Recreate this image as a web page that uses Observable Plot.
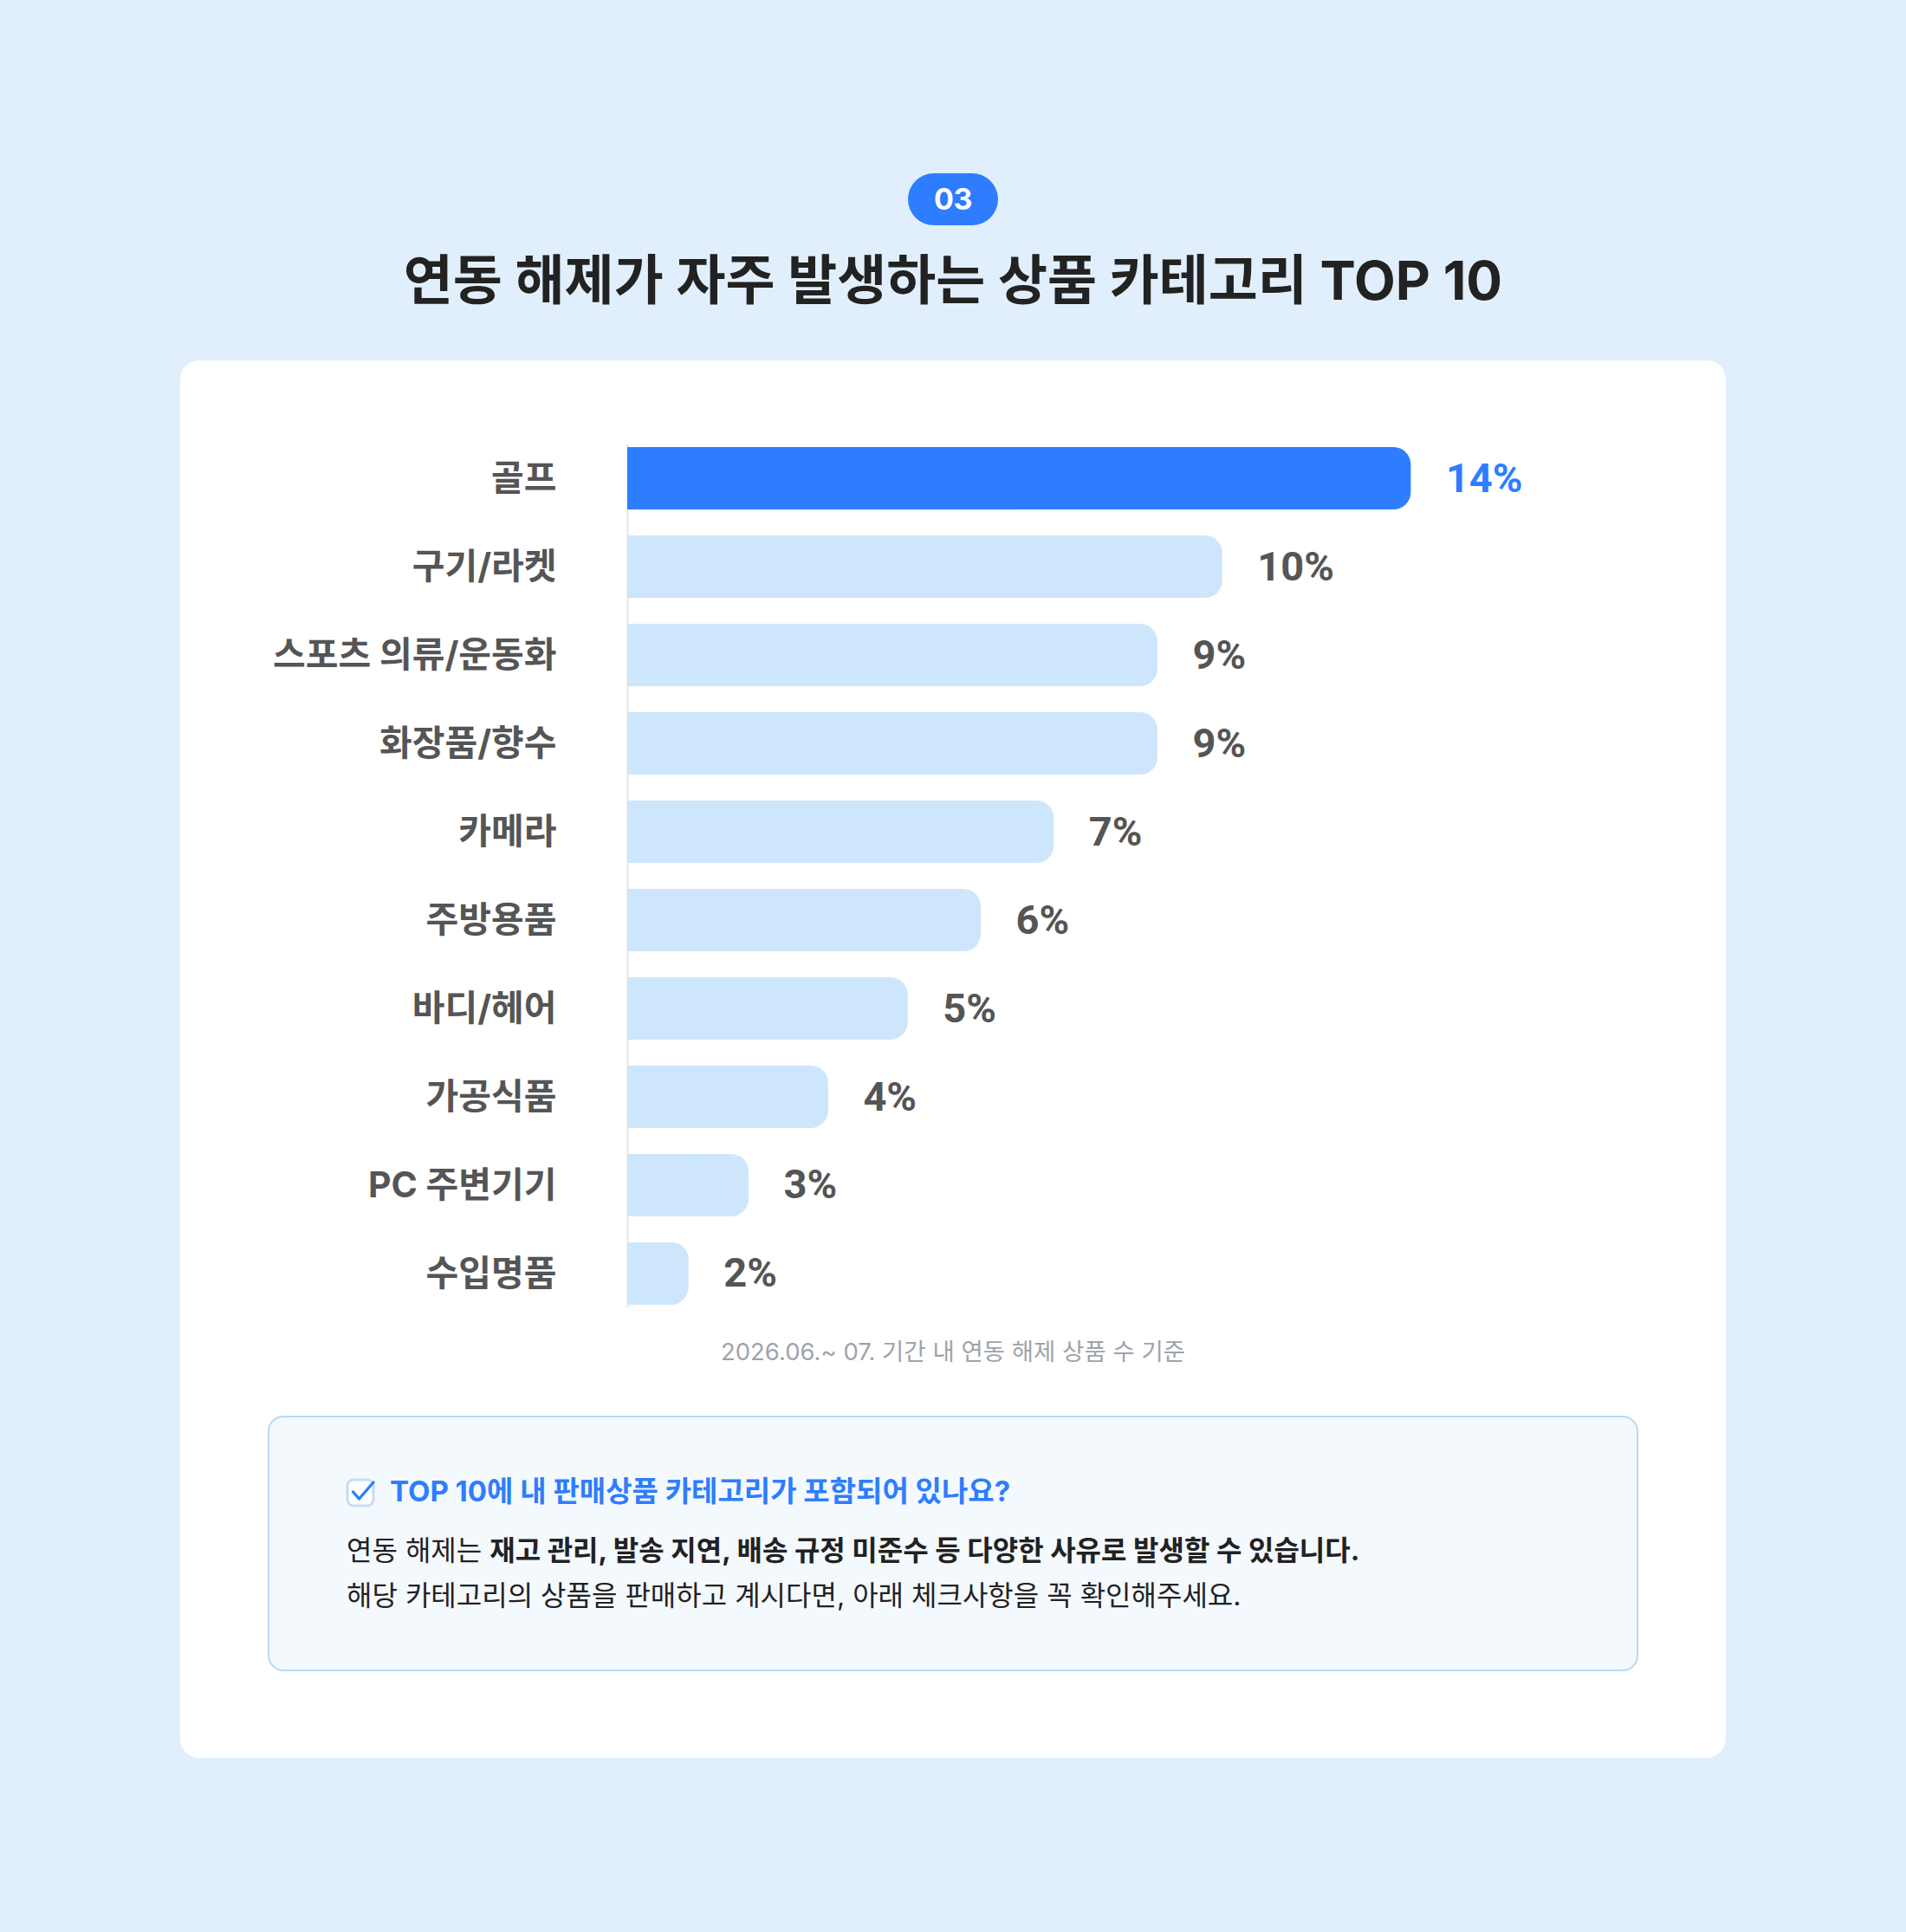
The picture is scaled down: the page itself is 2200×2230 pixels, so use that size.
<!DOCTYPE html>
<html lang="ko">
<head>
<meta charset="utf-8">
<script src="https://cdn.jsdelivr.net/npm/d3@7"></script>
<script src="https://cdn.jsdelivr.net/npm/@observablehq/plot@0.6"></script>
<style>
  html, body { margin: 0; padding: 0; }
  body { width: 2200px; height: 2230px; background: #E1EFFC; font-family: "Inter", "Noto Sans CJK KR", sans-serif; position: relative; overflow: hidden; }
  .abs { position: absolute; }
  #badge { left: 1048px; top: 200px; width: 104px; height: 60px; border-radius: 30px; background: #2E7DFF; color: #fff; font-weight: 700; font-size: 34px; line-height: 60px; text-align: center; letter-spacing: -0.5px; }
  #title { left: 0; top: 282px; width: 2200px; text-align: center; font-size: 62px; line-height: 84px; font-weight: 700; color: #222; letter-spacing: 0; }
  #card { left: 208px; top: 416px; width: 1784px; height: 1613px; background: #fff; border-radius: 22px; }
  #chart { left: 208px; top: 416px; }
  #caption { left: 0; top: 1540px; width: 2200px; text-align: center; font-size: 27.5px; line-height: 40px; color: #9EA3AA; letter-spacing: 0; }
  #info { left: 309px; top: 1634px; width: 1578px; height: 291px; border: 2px solid #B9DAF6; border-radius: 18px; background: #F4F9FE; }
  #icon { left: 398px; top: 1703px; }
  #infoHead { left: 450px; top: 1699px; font-size: 33px; line-height: 44px; font-weight: 700; color: #2E7DFF; letter-spacing: 0; white-space: nowrap; }
  .body { left: 400px; font-size: 32px; line-height: 40px; color: #222; letter-spacing: 0; white-space: nowrap; }
  .body b { font-weight: 700; }
</style>
</head>
<body>
<div id="badge" class="abs">03</div>
<div id="title" class="abs">연동 해제가 자주 발생하는 상품 카테고리 TOP 10</div>
<div id="card" class="abs"></div>
<div id="chart" class="abs"></div>
<div id="caption" class="abs">2026.06.~ 07. 기간 내 연동 해제 상품 수 기준</div>
<div id="info" class="abs"></div>
<svg id="icon" class="abs" width="40" height="40" viewBox="0 0 40 40">
  <rect x="3" y="5" width="30" height="30" rx="7" fill="#fff" stroke="#C3DDF9" stroke-width="3"/>
  <path d="M9.5 19 L16.5 27 L33 8" fill="none" stroke="#2E7DFF" stroke-width="3.4" stroke-linecap="round" stroke-linejoin="round"/>
</svg>
<div id="infoHead" class="abs">TOP 10에 내 판매상품 카테고리가 포함되어 있나요?</div>
<div class="abs body" style="top:1770px">연동 해제는 <b>재고 관리, 발송 지연, 배송 규정 미준수 등 다양한 사유로 발생할 수 있습니다.</b></div>
<div class="abs body" style="top:1822px">해당 카테고리의 상품을 판매하고 계시다면, 아래 체크사항을 꼭 확인해주세요.</div>

<script>
// Categories (top to bottom)
const categories = ["골프", "구기/라켓", "스포츠 의류/운동화", "화장품/향수", "카메라", "주방용품", "바디/헤어", "가공식품", "PC 주변기기", "수입명품"];
// Bar lengths as drawn in the picture (percent units)
const shares = [13.3, 10.1, 9.0, 9.0, 7.24, 6.0, 4.76, 3.41, 2.06, 1.04];
// Printed value labels
const shareLabels = ["14%", "10%", "9%", "9%", "7%", "6%", "5%", "4%", "3%", "2%"];
// Highlighted category
const highlight = "골프";

const data = categories.map((c, i) => ({category: c, share: shares[i], label: shareLabels[i]}));
const barColor = d => d.category === highlight ? "#2E7DFF" : "#CDE6FC";
const textColor = d => d.category === highlight ? "#2E7DFF" : "#555555";

const chart = Plot.plot({
  width: 1784,
  height: 1110,
  marginTop: 97,
  marginBottom: 17,
  marginLeft: 516,
  marginRight: 100,
  style: {background: "transparent", fontFamily: "Inter, 'Noto Sans CJK KR', sans-serif"},
  x: {domain: [0, 20], range: [516, 1876], axis: null},
  y: {domain: categories, paddingInner: 0.294, paddingOuter: 0.03, round: false, axis: null},
  color: {type: "identity"},
  marks: [
    Plot.ruleX([0], {stroke: "#E6E6E6", strokeWidth: 2}),
    Plot.barX(data, {y: "category", x1: 0, x2: "share", fill: barColor, rx: 20}),
    Plot.barX(data, {y: "category", x1: 0, x2: d => d.share / 2, fill: barColor}),
    Plot.text(data, {y: "category", x: () => 0, dx: -82, text: "category", textAnchor: "end", fontSize: 41, fontWeight: 700, fill: "#555555"}),
    Plot.text(data, {y: "category", x: "share", dx: 40, text: "label", textAnchor: "start", fontSize: 47, fontWeight: 700, fill: textColor, fontFamily: "Roboto, 'Noto Sans CJK KR', sans-serif", letterSpacing: "-1.5px"})
  ]
});
document.getElementById("chart").appendChild(chart);
</script>
</body>
</html>
